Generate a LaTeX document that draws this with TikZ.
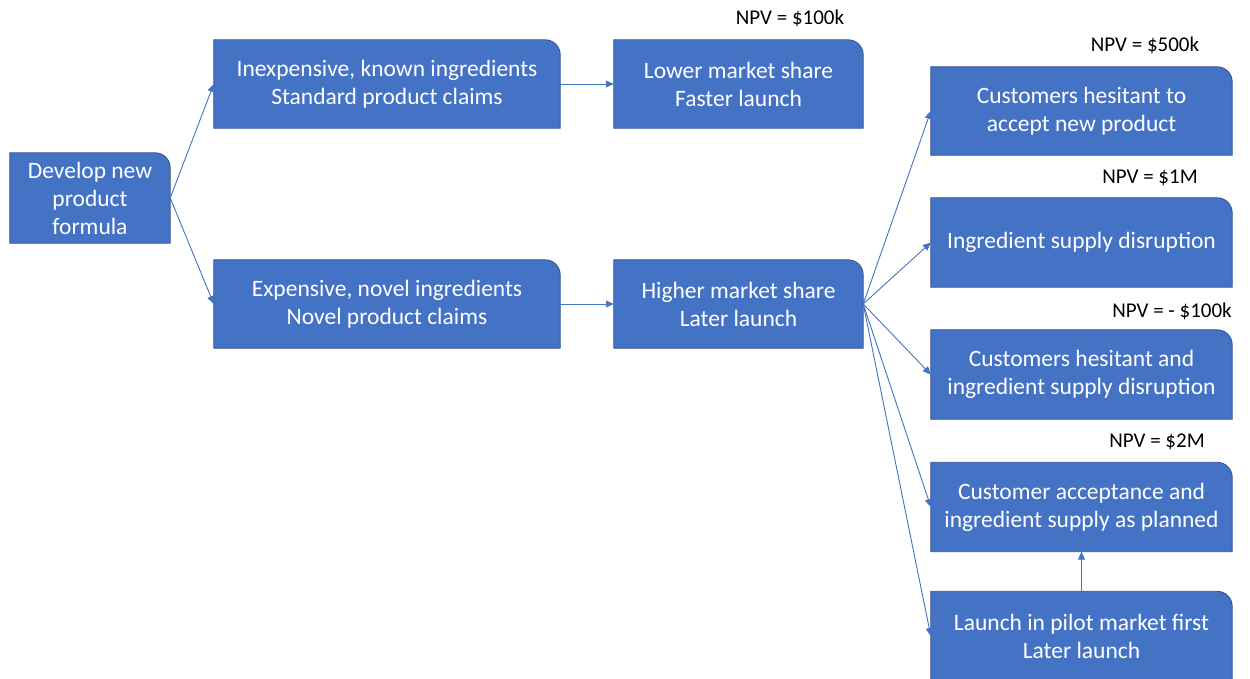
\documentclass[tikz,border=0pt]{standalone}
\usepackage{fontspec}
\setmainfont{Carlito}
\usetikzlibrary{arrows.meta,backgrounds}
\definecolor{boxfill}{HTML}{4472C4}
\definecolor{boxline}{HTML}{2F528F}
\definecolor{linkcol}{HTML}{4472C4}
\tikzset{
  dbox/.style={inner sep=0pt, align=center, text=white, font=\fontsize{23.5}{28}\selectfont},
  npv/.style={inner sep=0pt, text=black, font=\fontsize{21}{24}\selectfont},
  link/.style={draw=linkcol, line width=0.9pt, -{Triangle[length=8pt,width=7pt]}},
}
\newcommand{\boxshape}[1]{%
  \fill[boxfill, draw=boxline, line width=0.8pt]
    (#1.south west) -- (#1.north west) -- ([xshift=-15pt]#1.north east)
    arc[start angle=90, end angle=0, radius=15pt] -- (#1.south east) -- cycle;}
\begin{document}
\begin{tikzpicture}[x=1pt,y=-1pt]
\useasboundingbox (0,0) rectangle (1250,679);
\node[dbox, minimum width=160pt, minimum height=90pt] (A) at (90,198) {Develop new\\product\\formula};
\node[dbox, minimum width=346pt, minimum height=88pt] (B) at (387,84) {Inexpensive, known ingredients\\Standard product claims};
\node[dbox, minimum width=249pt, minimum height=88pt] (C) at (738.5,84) {Lower market share\\Faster launch};
\node[dbox, minimum width=346pt, minimum height=88pt] (D) at (387,304) {Expensive, novel ingredients\\Novel product claims};
\node[dbox, minimum width=249pt, minimum height=88pt] (E) at (738.5,304) {Higher market share\\Later launch};
\node[dbox, minimum width=301pt, minimum height=88pt] (F) at (1081.5,111) {Customers hesitant to\\accept new product};
\node[dbox, minimum width=301pt, minimum height=89pt] (G) at (1081.5,242.5) {Ingredient supply disruption};
\node[dbox, minimum width=301pt, minimum height=89pt] (H) at (1081.5,374.5) {Customers hesitant and\\ingredient supply disruption};
\node[dbox, minimum width=301pt, minimum height=89pt] (I) at (1081.5,507) {Customer acceptance and\\ingredient supply as planned};
\node[dbox, minimum width=301pt, minimum height=89pt] (J) at (1081.5,636) {Launch in pilot market first\\Later launch};
\begin{scope}[on background layer]
\foreach \n in {A,B,C,D,E,F,G,H,I,J} {\boxshape{\n}}
\end{scope}
\node[npv] (n1) at (790,18) {NPV = \$100k};
\node[npv] (n2) at (1145,45) {NPV = \$500k};
\node[npv] (n3) at (1150,178) {NPV = \$1M};
\node[npv] (n4) at (1172,311) {NPV = - \$100k};
\node[npv] (n5) at (1157,442) {NPV = \$2M};
\draw[link] (A.east) -- (B.west);
\draw[link] (A.east) -- (D.west);
\draw[link] (B.east) -- (C.west);
\draw[link] (D.east) -- (E.west);
\draw[link] (E.east) -- (F.west);
\draw[link] (E.east) -- (G.west);
\draw[link] (E.east) -- (H.west);
\draw[link] (E.east) -- (I.west);
\draw[link] (E.east) -- (J.west);
\draw[link] (J.north) -- (I.south);
\end{tikzpicture}
\end{document}
